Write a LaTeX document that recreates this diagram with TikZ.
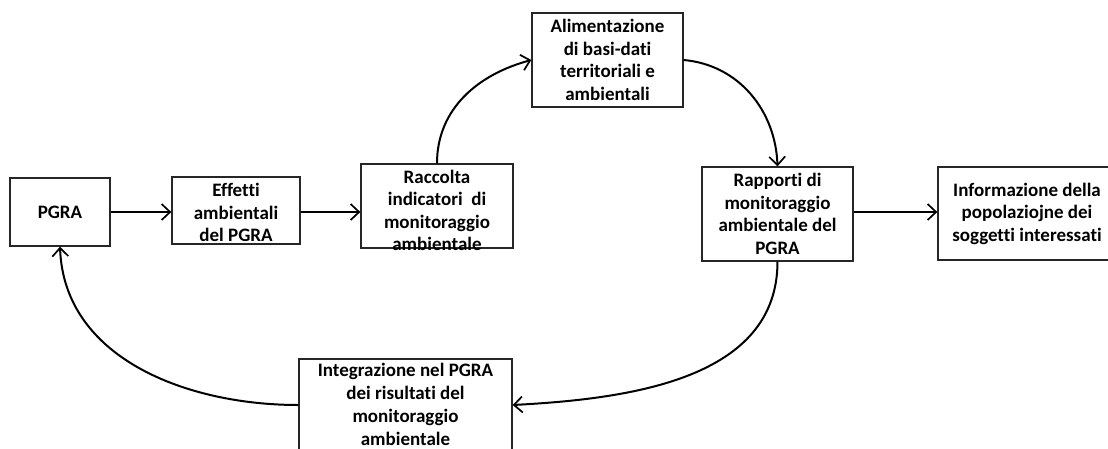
\documentclass[tikz,border=0pt]{standalone}
\usepackage{fontspec}
\setmainfont{Carlito}[Ligatures={NoCommon}]
\usetikzlibrary{arrows.meta}
\begin{document}
\begin{tikzpicture}[x=1pt,y=-1pt,
  box/.style={draw=black!85, line width=1.3pt, fill=white, align=center,
    font=\fontsize{19}{22.5}\selectfont\bfseries, inner sep=1pt},
  txt/.style={align=center, font=\fontsize{19}{22.5}\selectfont\bfseries, inner sep=0pt},
  conn/.style={line width=2pt, -{Straight Barb[length=8.5pt,width=16pt,line width=1.7pt]}}]
\useasboundingbox (0,0) rectangle (1108,448);
\node[box, minimum width=100pt, minimum height=68pt] (pgra) at (60,212) {PGRA};
\node[box, minimum width=128pt, minimum height=67pt] (eff) at (236,210.5) {};
\node[txt] (efft) at (236,212.5) {Effetti\\ambientali\\del PGRA};
\node[box, minimum width=152pt, minimum height=84pt] (rac) at (437,206) {};
\node[txt] (ract) at (437,210.5) {Raccolta\\indicatori\ \ di\\monitoraggio\\ambientale};
\node[box, minimum width=151pt, minimum height=94pt] (ali) at (607.5,60) {Alimentazione\\di basi-dati\\territoriali e\\ambientali};
\node[box, minimum width=151pt, minimum height=94pt] (rap) at (777.5,214) {Rapporti di\\monitoraggio\\ambientale del\\PGRA};
\node[box, minimum width=178pt, minimum height=93pt] (inf) at (1027,213.5) {Informazione della\\popolaziojne dei\\soggetti interessati};
\node[box, minimum width=213pt, minimum height=92pt] (int) at (405.5,405) {};
\node[txt, font=\fontsize{19}{23}\selectfont\bfseries] (intt) at (405.5,404) {Integrazione nel PGRA\\dei risultati del\\monitoraggio\\ambientale};
\draw[conn] (pgra.east) -- (pgra.east -| eff.west);
\draw[conn] (eff.east |- pgra.east) -- (pgra.east -| rac.west);
\draw[conn] (rap.east |- pgra.east) -- (pgra.east -| inf.west);
\draw[conn] (rac.north) to[out=90,in=195] (ali.west);
\draw[conn] (ali.east) to[out=-5,in=92] (rap.north);
\draw[conn] (rap.south) to[out=-90,in=3] (int.east);
\draw[conn] (int.west) to[out=180,in=-88] (pgra.south);
\end{tikzpicture}
\end{document}
